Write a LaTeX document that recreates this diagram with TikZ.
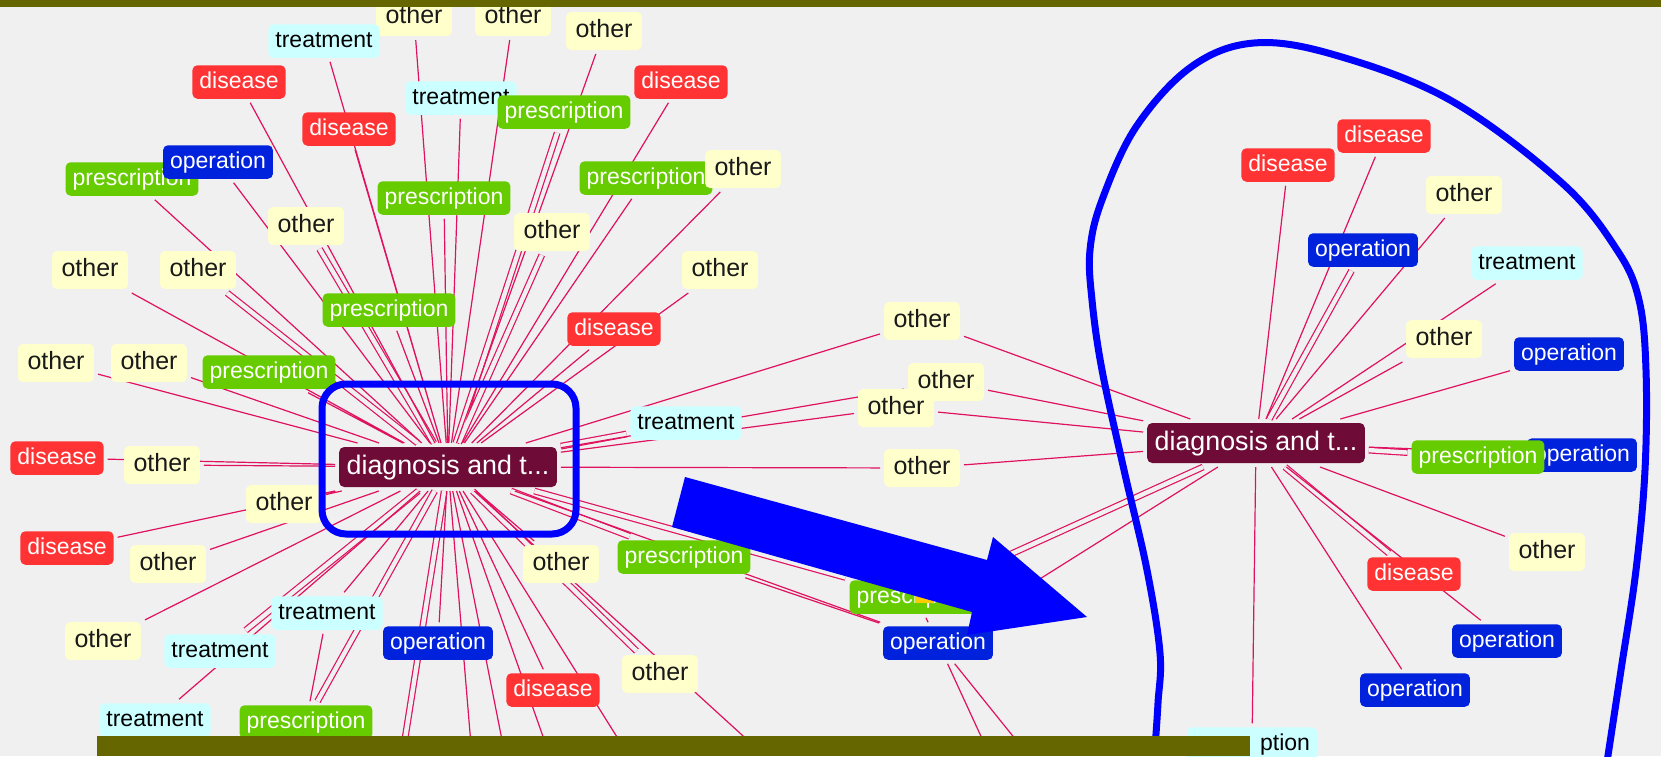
\documentclass[tikz,border=0pt]{standalone}
\usepackage{fontspec}
\setmainfont{Liberation Sans}
\usepackage{xcolor}
\usepackage{tikz}

\definecolor{bgc}{HTML}{F0F0F0}
\definecolor{barc}{HTML}{666600}
\definecolor{edgec}{HTML}{E0115F}
\definecolor{othc}{HTML}{FFFFCC}
\definecolor{trtc}{HTML}{CCFFFF}
\definecolor{disc}{HTML}{FF3333}
\definecolor{prec}{HTML}{66CC00}
\definecolor{opec}{HTML}{0022DD}
\definecolor{hubc}{HTML}{6E0B36}
\definecolor{markc}{HTML}{0000FF}
\definecolor{goldc}{HTML}{FFCC00}

\pgfdeclarelayer{base}
\pgfdeclarelayer{edges}
\pgfsetlayers{base,edges,main}

\tikzset{
  box/.style={rounded corners=2.5pt, inner xsep=3.5pt, inner ysep=0pt, outer sep=2pt,
    minimum height=16.75pt, text height=8.4pt, text depth=2.3pt, font=\fontsize{11.5}{12}\selectfont},
  oth/.style={box, fill=othc, text=black!90, minimum height=19pt, inner xsep=4.75pt,
    text height=9.2pt, text depth=2.5pt, font=\fontsize{12.5}{13}\selectfont},
  trt/.style={box, fill=trtc, text=black},
  dis/.style={box, fill=disc, text=white},
  pre/.style={box, fill=prec, text=white},
  ope/.style={box, fill=opec, text=white},
  hub/.style={box, fill=hubc, text=white, minimum height=20pt, inner xsep=3.75pt,
    text height=9.8pt, text depth=2.8pt, font=\fontsize{13.4}{14}\selectfont},
  edge/.style={draw=edgec, line width=0.6pt},
  dbl/.style={edge, double=bgc, double distance=2.2pt}
}

\begin{document}
\begin{tikzpicture}[x=0.5pt, y=-0.5pt]
    \useasboundingbox (0,0) rectangle (1661,756);
    \begin{pgfonlayer}{base}
        \fill[bgc] (0,0) rectangle (1661,756); % Background
    \end{pgfonlayer}

    % Whole graph (left)
    \node[hub] (hubL) at (448,467) {diagnosis and t...};
    \node[oth] (oth1) at (414,17) {other};
    \node[oth] (oth2) at (513,17) {other};
    \node[oth] (oth3) at (604,31) {other};
    \node[trt] (trt1) at (324,41) {treatment};
    \node[dis] (dis1) at (239,82) {disease};
    \node[dis] (dis2) at (681,82) {disease};
    \node[trt] (trt2) at (461,98) {treatment};
    \node[pre] (pre1) at (564,112) {prescription};
    \node[dis] (dis3) at (349,129) {disease};
    \node[pre] (pre2) at (132,179) {prescription};
    \node[ope] (ope1) at (218,162) {operation};
    \node[pre] (pre3) at (444,198) {prescription};
    \node[pre] (pre4) at (646,178) {prescription};
    \node[oth] (oth4) at (743,169) {other};
    \node[oth] (oth5) at (306,226) {other};
    \node[oth] (oth6) at (552,232) {other};
    \node[oth] (oth7) at (90,270) {other};
    \node[oth] (oth8) at (198,270) {other};
    \node[oth] (oth9) at (720,270) {other};
    \node[pre] (pre5) at (389,310) {prescription};
    \node[dis] (dis4) at (614,329) {disease};
    \node[oth] (oth10) at (922,321) {other};
    \node[oth] (oth11) at (56,363) {other};
    \node[oth] (oth12) at (149,363) {other};
    \node[pre] (pre6) at (269,372) {prescription};
    \node[oth] (oth13) at (946,382) {other};
    \node[oth] (oth14) at (896,408) {other};
    \node[trt] (trt3) at (686,423) {treatment};
    \node[dis] (dis5) at (57,458) {disease};
    \node[oth] (oth15) at (162,465) {other};
    \node[oth] (oth16) at (922,468) {other};
    \node[oth] (oth17) at (284,504) {other};
    \node[dis] (dis6) at (67,548) {disease};
    \node[oth] (oth18) at (168,564) {other};
    \node[oth] (oth19) at (561,564) {other};
    \node[pre] (pre7) at (684,557) {prescription};
    \node[trt] (trt4) at (327,613) {treatment};
    \node[oth] (oth20) at (103,641) {other};
    \node[trt] (trt5) at (220,651) {treatment};
    \node[ope] (ope2) at (438,643) {operation};
    \node[oth] (oth21) at (660,674) {other};
    \node[dis] (dis7) at (553,690) {disease};
    \node[trt] (trt6) at (155,720) {treatment};
    \node[pre] (pre8) at (306,722) {prescription};
    \node[pre] (pre9) at (916,597) {prescription};
    \fill[goldc] (915,592) rectangle (934,603); % hidden node
    \node[ope] (ope3) at (938,643) {operation};
    \coordinate (bot1) at (404,745);
    \coordinate (bot2) at (471,745);
    \coordinate (bot3) at (503,745);
    \coordinate (bot4) at (546,745);
    \coordinate (bot5) at (622,745);
    \coordinate (bot6) at (753,745);
    \coordinate (bot7) at (985,745);
    \coordinate (bot8) at (1020,745);

    % Zoomed part (right)
    \node[hub] (hubR) at (1256,443) {diagnosis and t...};
    \node[dis] (dis8) at (1384,136) {disease};
    \node[dis] (dis9) at (1288,165) {disease};
    \node[oth] (oth22) at (1464,195) {other};
    \node[ope] (ope4) at (1363,250) {operation};
    \node[trt] (trt7) at (1527,263) {treatment};
    \node[oth] (oth23) at (1444,339) {other};
    \node[ope] (ope5) at (1569,354) {operation};
    \node[ope] (ope6) at (1582,455) {operation};
    \node[pre] (pre10) at (1478,457) {prescription};
    \node[oth] (oth24) at (1547,552) {other};
    \node[dis] (dis10) at (1414,574) {disease};
    \node[ope] (ope7) at (1507,641) {operation};
    \node[ope] (ope8) at (1415,690) {operation};
    \node[trt, anchor=east, text width=58pt, align=right] (trt8) at (1321,744) {ption};

    \begin{pgfonlayer}{edges}
        \draw[dbl] (hubL) -- (pre1) (hubL) -- (oth5) (hubL) -- (oth6) (hubL) -- (oth8)
            (hubL) -- (trt3) (hubL) -- (pre7) (hubL) -- (oth21) (hubL) -- (pre8)
            (hubL) -- (pre9) (hubL) -- (bot1) (hubL) -- (trt5);
        \draw[edge] (hubL) -- (oth1) (hubL) -- (oth2) (hubL) -- (oth3) (hubL) -- (trt1)
            (hubL) -- (dis1) (hubL) -- (dis2) (hubL) -- (trt2) (hubL) -- (dis3)
            (hubL) -- (ope1) (hubL) -- (pre2) (hubL) -- (pre3) (hubL) -- (pre4)
            (hubL) -- (oth4) (hubL) -- (oth7) (hubL) -- (oth9) (hubL) -- (pre5)
            (hubL) -- (dis4) (hubL) -- (oth10) (hubL) -- (oth11) (hubL) -- (oth12)
            (hubL) -- (pre6) (hubL) -- (oth13) (hubL) -- (oth14) (hubL) -- (dis5)
            (hubL) -- (oth15) (hubL) -- (oth16) (hubL) -- (oth17) (hubL) -- (dis6)
            (hubL) -- (oth18) (hubL) -- (oth19) (hubL) -- (trt4) (hubL) -- (oth20)
            (hubL) -- (ope2) (hubL) -- (dis7) (hubL) -- (trt6) (hubL) -- (ope3)
            (hubL) -- (bot2) (hubL) -- (bot3) (hubL) -- (bot4) (hubL) -- (bot5) (hubL) -- (bot6);
        \draw[edge] (trt4) -- (pre8) (pre7) -- (ope3) (pre9) -- (ope3) (ope3) -- (bot7) (ope3) -- (bot8);
        \draw[dbl] (hubR) -- (ope4) (hubR) -- (pre10) (hubR) -- (dis10) (hubR) -- (pre9);
        \draw[edge] (hubR) -- (dis8) (hubR) -- (dis9) (hubR) -- (oth22) (hubR) -- (trt7)
            (hubR) -- (oth23) (hubR) -- (ope5) (hubR) -- (ope6) (hubR) -- (oth24)
            (hubR) -- (ope7) (hubR) -- (ope8) (hubR) -- (trt8) (hubR) -- (oth10)
            (hubR) -- (oth13) (hubR) -- (oth14) (hubR) -- (oth16) (hubR) -- (ope3);
    \end{pgfonlayer}

    % Markup
    \draw[markc, line width=3.5pt, rounded corners=12pt] (322,384) rectangle (576,534); % Focus
    \fill[markc] (685,477) -- (987,560) -- (993,537) -- (1087,617) -- (967,635) -- (972,612) -- (672,527) -- cycle; % Arrow
    \draw[markc, line width=3.5pt] plot[smooth, tension=0.6] coordinates {(1155,748) (1158,703) (1160,653) (1147,570)
        (1124,470) (1102,370) (1092,300) (1090,250) (1102,200) (1136,127) (1191,67) (1254,43) (1335,55)
        (1450,100) (1562,183) (1617,250) (1639,300) (1646,370) (1645,470) (1636,570) (1621,670) (1607,762)};
    \fill[barc] (0,0) rectangle (1661,7); % Top bar
    \fill[barc] (97,736) rectangle (1250,756); % Bottom bar
\end{tikzpicture}
\end{document}
